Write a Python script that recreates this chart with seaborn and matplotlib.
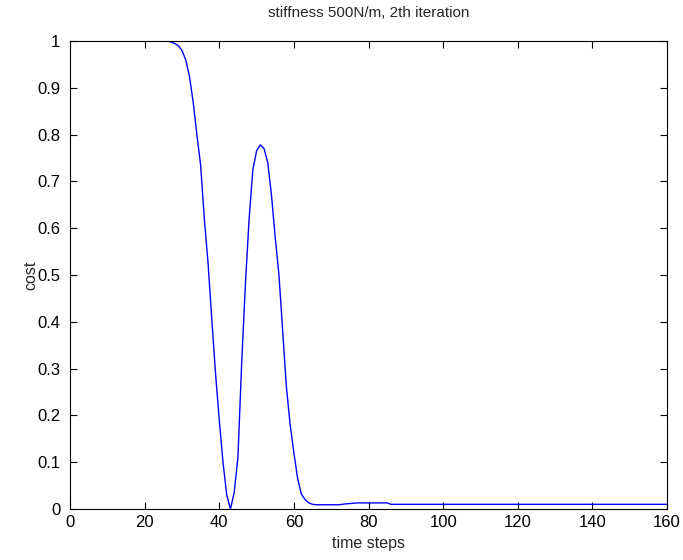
import matplotlib
matplotlib.use("Agg")
import matplotlib.pyplot as plt
import pandas as pd
import seaborn as sns

# values
time_steps = [0, 26, 27, 28, 29, 30, 31, 32, 33, 34, 35, 36, 37, 38, 39, 40,
              41, 42, 43, 44, 45, 46, 47, 48, 49, 50, 51, 52, 53, 54, 55, 56,
              57, 58, 59, 60, 61, 62, 63, 64, 65, 66, 72, 74, 77, 85, 86, 160]
cost = [1.0, 1.0, 0.998, 0.995, 0.99, 0.98, 0.96, 0.925, 0.87, 0.80, 0.735,
        0.62, 0.525, 0.405, 0.29, 0.19, 0.10, 0.03, 0.0, 0.035, 0.11, 0.31,
        0.48, 0.62, 0.725, 0.765, 0.778, 0.77, 0.74, 0.67, 0.58, 0.50, 0.38,
        0.26, 0.18, 0.12, 0.065, 0.032, 0.02, 0.013, 0.01, 0.009, 0.009,
        0.011, 0.013, 0.013, 0.01, 0.01]

title = "stiffness 500N/m, 2th iteration"
x_ticks = list(range(0, 161, 20))
y_ticks = [0, 0.1, 0.2, 0.3, 0.4, 0.5, 0.6, 0.7, 0.8, 0.9, 1]
y_tick_labels = ["0", "0.1", "0.2", "0.3", "0.4", "0.5", "0.6", "0.7", "0.8", "0.9", "1"]


def plot():
    df = pd.DataFrame({"time steps": time_steps, "cost": cost})

    sns.set_style("ticks")
    plt.rcParams["font.family"] = ["Liberation Sans", "DejaVu Sans"]

    fig = plt.figure(figsize=(6.83, 5.6), dpi=100)
    ax = fig.add_axes([0.1025, 0.0911, 0.8741, 0.8357])

    sns.lineplot(data=df, x="time steps", y="cost", ax=ax,
                 color="#0000ff", linewidth=1.0, sort=False)

    ax.set_xlim(0, 160)
    ax.set_ylim(0, 1)
    ax.set_xticks(x_ticks)
    ax.set_yticks(y_ticks)
    ax.set_yticklabels(y_tick_labels)
    ax.tick_params(direction="in", length=5, width=0.8, top=True, right=True,
                   labelsize=12, colors="black", pad=7)
    ax.tick_params(axis="x", pad=4)
    for s in ax.spines.values():
        s.set_visible(True)
        s.set_linewidth(0.8)
        s.set_color("black")

    ax.set_xlabel("time steps", fontsize=11.5, labelpad=5)
    ax.set_ylabel("cost", fontsize=11.5, labelpad=-1)
    ax.set_title(title, fontsize=11, pad=17)

    fig.savefig("out.png", dpi=100)


if __name__ == '__main__':
    plot()
